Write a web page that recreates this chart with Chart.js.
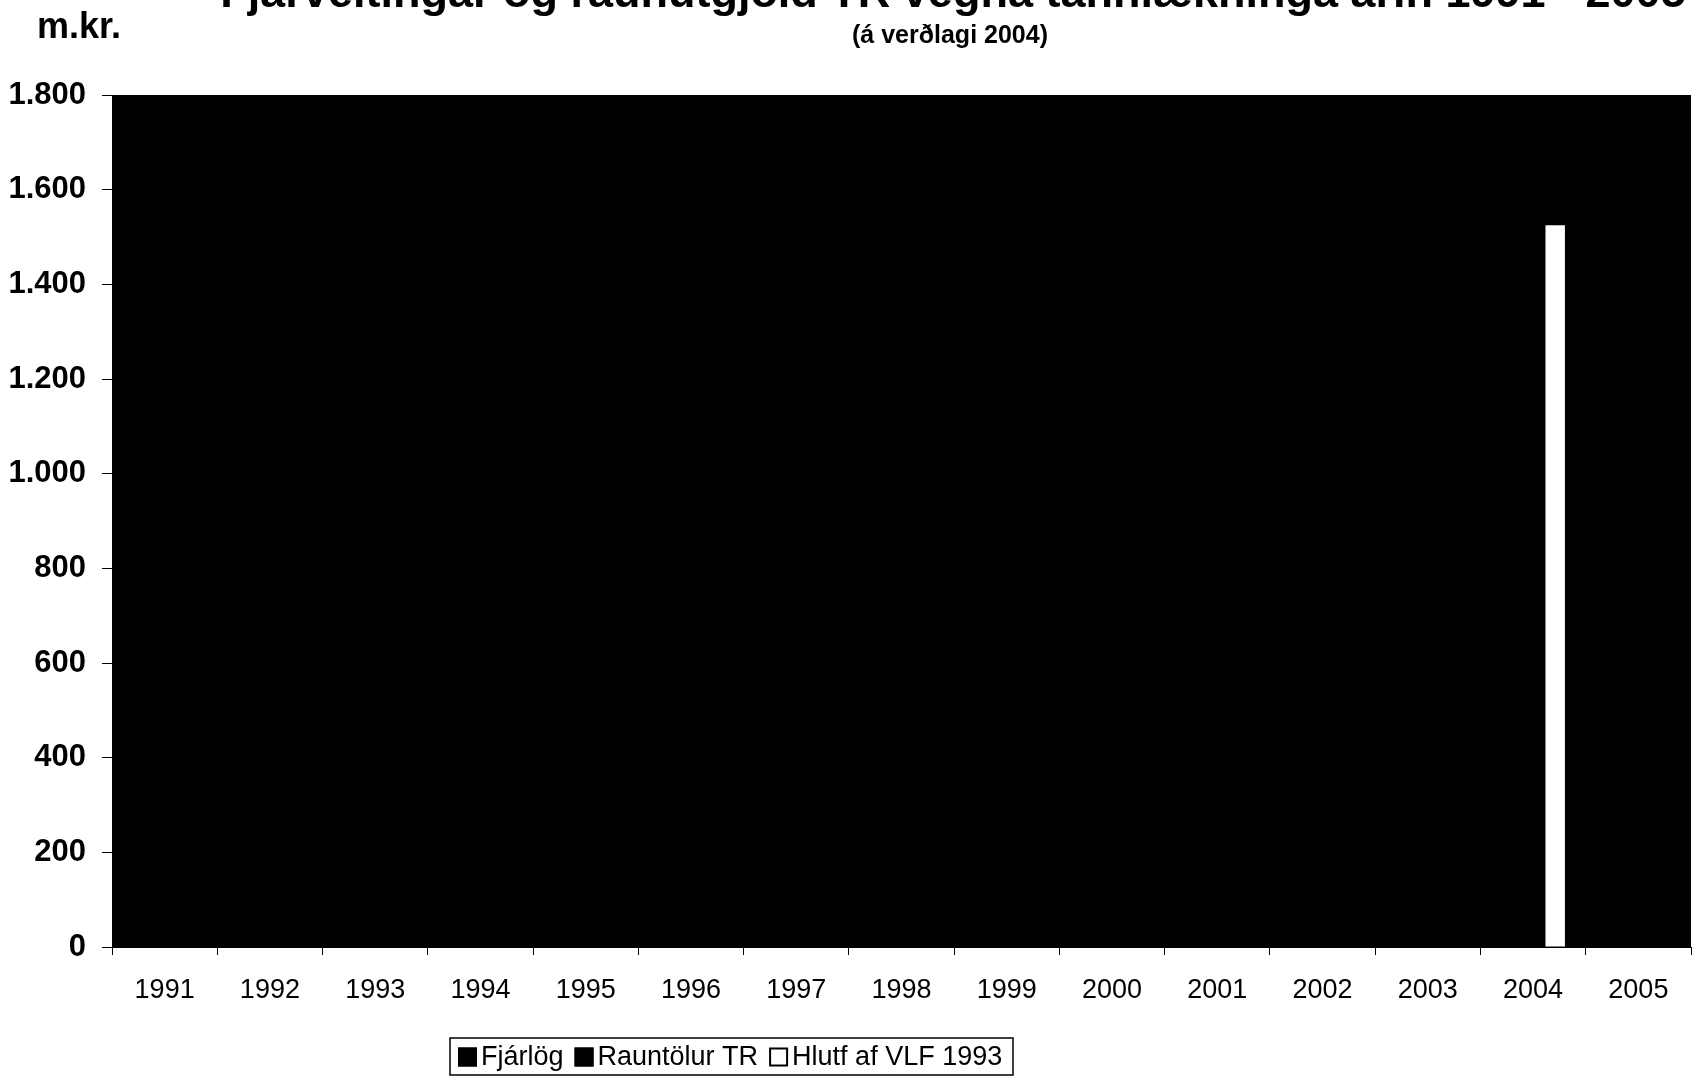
<!DOCTYPE html>
<html>
<head>
<meta charset="utf-8">
<script src="https://cdn.jsdelivr.net/npm/chart.js@4.4.1/dist/chart.umd.min.js"></script>
<style>
  body { margin: 0; background: #fff; }
  canvas { display: block; }
</style>
</head>
<body>
<canvas id="chart" width="1693" height="1076"></canvas>
<script>
const years = ['1991', '1992', '1993', '1994', '1995', '1996', '1997', '1998',
    '1999', '2000', '2001', '2002', '2003', '2004', '2005'];
// the scan turned the plot area black, so these two series cannot be read; estimates only
const fjarlog = [1500, 1300, 1150, 1050, 1000, 980, 960, 950, 940, 930, 920, 900, 880, 860, 850];
const rauntolur = [1550, 1350, 1200, 1100, 1050, 1020, 1000, 990, 980, 970, 960, 950, 930, 910, null];
const hlutfVlf = [null, null, null, null, null, null, null, null, null, null, null, null, null, 1525, null];

const seriesNames = ['Fjárlög', 'Rauntölur TR', 'Hlutf af VLF 1993'];
const yTicks = [0, 200, 400, 600, 800, 1000, 1200, 1400, 1600, 1800];

const FONT = '"Liberation Sans", Arial, sans-serif';

// black plot background + titles + boxed legend
const decor = {
    id: 'decor',
    beforeDatasetsDraw(chart) {
        const { ctx, chartArea: a } = chart;
        ctx.save();
        ctx.fillStyle = '#000';
        ctx.fillRect(a.left, a.top, a.right - a.left, a.bottom - a.top);
        ctx.restore();
    },
    afterDraw(chart) {
        const ctx = chart.ctx;
        ctx.save();
        ctx.fillStyle = '#000';
        ctx.textBaseline = 'alphabetic';
        ctx.textAlign = 'center';
        ctx.font = 'bold 45px ' + FONT;
        ctx.fillText('Fjárveitingar og raunútgjöld TR vegna tannlækninga árin 1991 - 2005', 953, 7);
        ctx.font = 'bold 25px ' + FONT;
        ctx.fillText('(á verðlagi 2004)', 950, 43);
        ctx.textAlign = 'left';
        ctx.font = 'bold 36px ' + FONT;
        ctx.fillText('m.kr.', 37, 38);

        // legend
        const left = 450, top = 1038, right = 1013, bottom = 1075;
        ctx.strokeStyle = '#000';
        ctx.lineWidth = 1.5;
        ctx.strokeRect(left, top, right - left, bottom - top);
        ctx.font = '27px ' + FONT;
        ctx.textBaseline = 'middle';
        let x = left + 8;
        const cy = (top + bottom) / 2;
        chart.data.datasets.forEach(ds => {
            ctx.fillStyle = ds.backgroundColor;
            ctx.fillRect(x, cy - 9, 19, 19);
            ctx.lineWidth = 2;
            ctx.strokeRect(x + 1, cy - 8, 17, 17);
            ctx.fillStyle = '#000';
            ctx.fillText(ds.label, x + 23, cy + 1);
            x += 23 + ctx.measureText(ds.label).width + 11;
        });
        ctx.restore();
    }
};

new Chart(document.getElementById('chart'), {
    type: 'bar',
    data: {
        labels: years,
        datasets: [
            { label: seriesNames[0], data: fjarlog, backgroundColor: '#000' },
            { label: seriesNames[1], data: rauntolur, backgroundColor: '#000' },
            { label: seriesNames[2], data: hlutfVlf, backgroundColor: '#fff' }
        ]
    },
    options: {
        responsive: false,
        animation: false,
        categoryPercentage: 0.63,
        barPercentage: 0.88,
        layout: { padding: { top: 95, right: 2, left: 0, bottom: 70 } },
        plugins: {
            legend: { display: false },
            tooltip: { enabled: false }
        },
        scales: {
            x: {
                afterFit: s => { s.height = 59; },
                grid: { offset: true, drawOnChartArea: false, tickLength: 8, color: '#000' },
                border: { color: '#000', width: 1 },
                ticks: { color: '#000', padding: 19, font: { family: FONT, size: 27 } }
            },
            y: {
                min: 0,
                max: 1800,
                afterFit: s => { s.width = 112; },
                afterBuildTicks: s => { s.ticks = yTicks.map(v => ({ value: v })); },
                grid: { drawOnChartArea: false, tickLength: 10, color: '#000' },
                border: { color: '#000', width: 1 },
                ticks: {
                    color: '#000',
                    padding: 16,
                    font: { family: FONT, size: 31, weight: 'bold' },
                    callback: v => v.toString().replace(/\B(?=(\d{3})+(?!\d))/g, '.')
                }
            }
        }
    },
    plugins: [decor]
});
</script>
</body>
</html>
